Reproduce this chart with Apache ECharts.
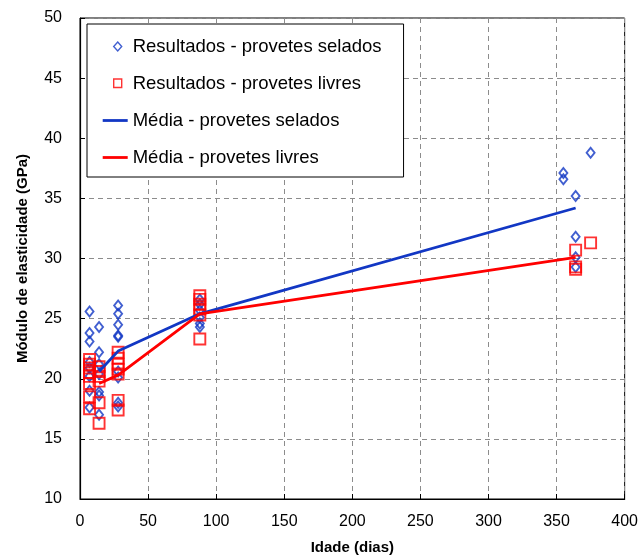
<!DOCTYPE html>
<html lang="pt">
<head>
    <meta charset="UTF-8">
    <title>Módulo de elasticidade</title>
    <script src="https://cdn.jsdelivr.net/npm/echarts@6/dist/echarts.min.js"></script>
    <style>
        html, body { margin: 0; padding: 0; background: #fff; }
    </style>
</head>
<body>
    <div id="grafico" style="width:641px;height:560px;"></div>

    <script>
        // idades (dias) e módulos (GPa)
        var seladosIdade = [7, 7, 7, 7, 7, 7, 7, 7,
                            14, 14, 14, 14, 14, 14, 14,
                            28, 28, 28, 28, 28, 28, 28, 28, 28,
                            88, 88, 88, 88, 88, 88,
                            355, 355, 375, 364, 364, 364, 364];
        var seladosModulo = [25.6, 23.8, 23.1, 21.4, 20.9, 20.2, 19.0, 17.6,
                             24.3, 22.2, 21.2, 20.4, 18.9, 18.6, 17.0,
                             26.1, 25.4, 24.5, 23.6, 23.5, 20.6, 20.1, 18.0, 17.7,
                             26.6, 26.2, 25.7, 25.1, 24.6, 24.3,
                             37.1, 36.6, 38.8, 35.2, 31.8, 30.1, 29.3];

        var livresIdade = [7, 7, 7, 7, 7, 7, 7, 7,
                           14, 14, 14, 14, 14, 14,
                           28, 28, 28, 28, 28, 28, 28,
                           88, 88, 88, 88, 88, 88,
                           364, 364, 364, 375];
        var livresModulo = [21.6, 21.2, 20.9, 20.5, 20.2, 19.6, 18.5, 17.5,
                            21.0, 20.6, 20.2, 19.8, 18.0, 16.3,
                            22.2, 21.7, 21.2, 20.8, 20.4, 18.2, 17.4,
                            26.9, 26.6, 26.2, 25.8, 25.3, 23.3,
                            30.7, 29.3, 29.1, 31.3];

        // médias
        var mediaIdade = [14, 28, 88, 364];
        var mediaSelados = [20.6, 22.3, 25.4, 34.2];
        var mediaLivres = [19.6, 20.3, 25.4, 30.1];

        var azul = '#1237c4';
        var vermelho = '#ff0000';
        var fonte = '"Liberation Sans", Arial, sans-serif';

        function juntar(xs, ys) {
            var out = [];
            for (var i = 0; i < xs.length; i++) out.push([xs[i], ys[i]]);
            return out;
        }

        // ícones da legenda (caixa 25x10 com o símbolo ao centro)
        var iconeLosango = 'path://M0,0 M25,10 M15,0.5 L19,5 L15,9.5 L11,5 Z';
        var iconeQuadrado = 'path://M0,0 M25,10 M11,0.5 L19,0.5 L19,9 L11,9 Z';
        var iconeLinha = 'path://M0,3.6 L25,3.6 L25,6.4 L0,6.4 Z';

        var grafico = echarts.init(document.getElementById('grafico'));
        var option = {
            animation: false,
            textStyle: { fontFamily: fonte },
            grid: {
                left: 80, right: 15, top: 18, bottom: 60,
                show: true, borderColor: '#000', borderWidth: 1
            },
            legend: {
                orient: 'vertical',
                left: 87, top: 24,
                padding: [13, 22, 10, 15],
                itemGap: 18,
                itemWidth: 25,
                itemHeight: 10,
                backgroundColor: '#fff',
                borderColor: '#000',
                borderWidth: 1,
                textStyle: { fontSize: 18.5, color: '#000', fontFamily: fonte },
                data: [
                    { name: 'Resultados - provetes selados', icon: iconeLosango,
                      itemStyle: { color: 'transparent', borderColor: azul, borderWidth: 1.4 } },
                    { name: 'Resultados - provetes livres', icon: iconeQuadrado,
                      itemStyle: { color: 'transparent', borderColor: vermelho, borderWidth: 1.4 } },
                    { name: 'Média - provetes selados', icon: iconeLinha,
                      itemStyle: { color: azul, borderWidth: 0 } },
                    { name: 'Média - provetes livres', icon: iconeLinha,
                      itemStyle: { color: vermelho, borderWidth: 0 } }
                ]
            },
            xAxis: {
                type: 'value',
                min: 0, max: 400, interval: 50,
                name: 'Idade (dias)',
                nameLocation: 'middle',
                nameGap: 41,
                nameTextStyle: { fontSize: 15, fontWeight: 'bold', color: '#000' },
                axisLine: { show: true, lineStyle: { color: '#000', width: 1.2 } },
                axisTick: { show: true, inside: true, length: 5, lineStyle: { color: '#000' } },
                axisLabel: { fontSize: 16, color: '#000', margin: 15 },
                splitLine: { show: true, lineStyle: { color: '#8c8c8c', type: [5, 4] } }
            },
            yAxis: {
                type: 'value',
                min: 10, max: 50, interval: 5,
                name: 'Módulo de elasticidade (GPa)',
                nameLocation: 'middle',
                nameGap: 50,
                nameTextStyle: { fontSize: 15, fontWeight: 'bold', color: '#000' },
                axisLine: { show: true, lineStyle: { color: '#000', width: 1.2 } },
                axisTick: { show: true, inside: true, length: 5, lineStyle: { color: '#000' } },
                axisLabel: { fontSize: 16, color: '#000', margin: 18 },
                splitLine: { show: true, lineStyle: { color: '#8c8c8c', type: [5, 4] } }
            },
            series: [
                {
                    name: 'Resultados - provetes selados',
                    type: 'scatter',
                    symbol: 'diamond',
                    symbolSize: [8, 10],
                    itemStyle: { color: 'transparent', borderColor: azul, borderWidth: 1.9 },
                    data: juntar(seladosIdade, seladosModulo),
                    z: 3
                },
                {
                    name: 'Resultados - provetes livres',
                    type: 'scatter',
                    symbol: 'rect',
                    symbolSize: 11,
                    itemStyle: { color: 'transparent', borderColor: vermelho, borderWidth: 1.9 },
                    data: juntar(livresIdade, livresModulo),
                    z: 3
                },
                {
                    name: 'Média - provetes selados',
                    type: 'line',
                    symbol: 'none',
                    lineStyle: { color: azul, width: 2.8 },
                    itemStyle: { color: azul },
                    data: juntar(mediaIdade, mediaSelados),
                    z: 4
                },
                {
                    name: 'Média - provetes livres',
                    type: 'line',
                    symbol: 'none',
                    lineStyle: { color: vermelho, width: 2.8 },
                    itemStyle: { color: vermelho },
                    data: juntar(mediaIdade, mediaLivres),
                    z: 4
                }
            ]
        };
        grafico.setOption(option);
    </script>
</body>
</html>
